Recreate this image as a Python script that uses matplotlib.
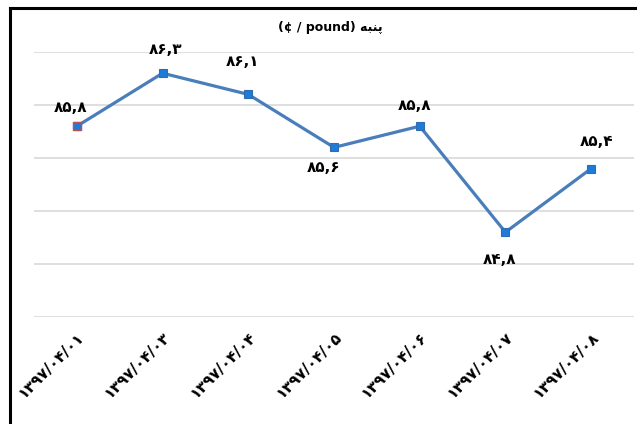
import matplotlib
matplotlib.use("Agg")
import matplotlib.pyplot as plt
from matplotlib.lines import Line2D

# ── Data ───────────────────────────────────────────────────────────────────
dates = ["۱۳۹۷/۰۴/۰۱", "۱۳۹۷/۰۴/۰۳", "۱۳۹۷/۰۴/۰۴", "۱۳۹۷/۰۴/۰۵",
         "۱۳۹۷/۰۴/۰۶", "۱۳۹۷/۰۴/۰۷", "۱۳۹۷/۰۴/۰۸"]
prices = [85.8, 86.3, 86.1, 85.6, 85.8, 84.8, 85.4]
value_labels = ["۸۵,۸", "۸۶,۳", "۸۶,۱", "۸۵,۶", "۸۵,۸", "۸۴,۸", "۸۵,۴"]
# label offsets in pixels (dx, dy) relative to each point
label_offsets = [(-6, 19), (3, 24), (-6, 33), (-10, -20), (-5, 21), (-6, -27), (5, 27)]

# title: "پنبه (¢ / pound)" — Persian word pre-shaped in visual order
title = "(¢ / pound) \uFEEA\uFE92\uFEE8\uFB58"

plt.rcParams["font.family"] = ["DejaVu Sans"]

fig = plt.figure(figsize=(6.37, 4.24), dpi=100)
ax = fig.add_axes([34 / 637, 1 - 317 / 424, 600 / 637, 265 / 424])

x = list(range(len(prices)))
ax.plot(x, prices, color="#4A7EBB", linewidth=2.3, zorder=3)
ax.plot(x, prices, linestyle="none", marker="s", markersize=5.5,
        markerfacecolor="#1E7BD8", markeredgecolor="#2F6CB0",
        markeredgewidth=0.8, zorder=4)
# first marker drawn with reddish edge as in the reference
ax.plot(x[:1], prices[:1], linestyle="none", marker="s", markersize=5.5,
        markerfacecolor="#1E7BD8", markeredgecolor="#C0504D",
        markeredgewidth=1.0, zorder=5)

for xi, yi, lab, (dx, dy) in zip(x, prices, value_labels, label_offsets):
    ax.annotate(lab, (xi, yi), xytext=(dx, dy), textcoords="offset pixels",
                ha="center", va="center", fontsize=11, fontweight="bold",
                color="black")

ax.set_xlim(-0.5, len(prices) - 0.5)
ax.set_ylim(84.0, 86.5)
ax.set_yticks([84.0, 84.5, 85.0, 85.5, 86.0, 86.5])
ax.set_yticklabels([])
ax.grid(axis="y", color="#D9D9D9", linewidth=1.2)
ax.set_axisbelow(True)
ax.tick_params(axis="both", length=0)
for s in ax.spines.values():
    s.set_visible(False)

ax.set_xticks(x)
ax.set_xticklabels(dates, rotation=45, ha="right", va="top",
                   rotation_mode="anchor", fontsize=11, fontweight="bold")
ax.tick_params(axis="x", pad=9)

fig.text(330 / 637, 1 - 28 / 424, title, ha="center", va="center",
         fontsize=9, fontweight="bold")

# black frame on the left and top edges of the screenshot
fig.add_artist(Line2D([10 / 637, 10 / 637], [0, 1 - 8 / 424],
                      transform=fig.transFigure, color="black", linewidth=2.2))
fig.add_artist(Line2D([10 / 637, 1], [1 - 8 / 424, 1 - 8 / 424],
                      transform=fig.transFigure, color="black", linewidth=2.2))

fig.savefig("out.png", dpi=100)
